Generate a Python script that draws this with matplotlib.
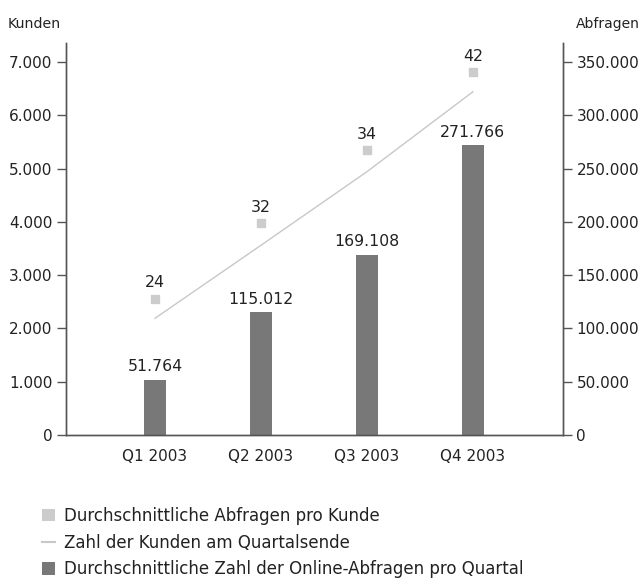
import matplotlib.pyplot as plt
from matplotlib.lines import Line2D
from matplotlib.patches import Patch

plt.rcParams['font.family'] = ['DejaVu Sans']

quartale = ['Q1 2003', 'Q2 2003', 'Q3 2003', 'Q4 2003']
abfragen = [51764, 115012, 169108, 271766]          # rechte Achse
kunden = [2190, 3560, 4940, 6440]                   # linke Achse
abfr_pro_kunde = [24, 32, 34, 42]
abfr_pro_kunde_pos = [2560, 3970, 5350, 6810]       # Lage der Quadrate (linke Achse)

links_ticks = [0, 1000, 2000, 3000, 4000, 5000, 6000, 7000]
rechts_ticks = [0, 50000, 100000, 150000, 200000, 250000, 300000, 350000]

def fmt(v):
    return f"{v:,}".replace(",", ".")

fig = plt.figure(figsize=(6.44, 5.81), dpi=100)
ax = fig.add_axes([0.1025, 0.2513, 0.7717, 0.6747])
ax2 = ax.twinx()

x = list(range(len(quartale)))
spine_col = '#555555'
txt_col = '#222222'
fs = 11

ax2.bar(x, abfragen, width=0.215, color='#787878', zorder=2)
for xi, v in zip(x, abfragen):
    ax2.annotate(fmt(v), (xi, v), xytext=(0, 4), textcoords='offset points',
                 ha='center', va='bottom', fontsize=11.3, color=txt_col)

ax.plot(x, kunden, color='#c8c8c8', lw=1.0, zorder=3)
ax.plot(x, abfr_pro_kunde_pos, ls='none', marker='s', ms=6, color='#cccccc', zorder=3)
for xi, p, v in zip(x, abfr_pro_kunde_pos, abfr_pro_kunde):
    ax.annotate(str(v), (xi, p), xytext=(0, 6), textcoords='offset points',
                ha='center', va='bottom', fontsize=11.3, color=txt_col)

ax.set_zorder(ax2.get_zorder() + 1)
ax.patch.set_visible(False)

ax.set_xlim(-0.84, 3.85)
ax.set_ylim(0, 7355)
ax2.set_ylim(0, 7355 * 50)

ax.set_yticks(links_ticks)
ax.set_yticklabels([fmt(t) for t in links_ticks])
ax2.set_yticks(rechts_ticks)
ax2.set_yticklabels([fmt(t) for t in rechts_ticks])
ax.set_xticks(x)
ax.set_xticklabels(quartale)

for a in (ax, ax2):
    a.spines['top'].set_visible(False)
    for s in ('left', 'right', 'bottom'):
        a.spines[s].set_color(spine_col)
        a.spines[s].set_linewidth(1.0)
    a.tick_params(axis='y', length=6.5, width=1.0, color=spine_col, labelsize=fs,
                  labelcolor=txt_col, pad=3.2)
ax.tick_params(axis='x', length=0, labelsize=fs, labelcolor=txt_col, pad=10)

fig.text(8 / 644, 1 - 24 / 581, 'Kunden', ha='left', va='center', fontsize=10.2, color=txt_col)
fig.text(640 / 644, 1 - 24 / 581, 'Abfragen', ha='right', va='center', fontsize=10, color=txt_col)

handles = [
    Patch(facecolor='#cccccc', edgecolor='none'),
    Line2D([0], [0], color='#c8c8c8', lw=1.5),
    Patch(facecolor='#787878', edgecolor='none'),
]
labels = [
    'Durchschnittliche Abfragen pro Kunde',
    'Zahl der Kunden am Quartalsende',
    'Durchschnittliche Zahl der Online-Abfragen pro Quartal',
]
fig.legend(handles, labels, loc='upper left', bbox_to_anchor=(42 / 644, 1 - 507 / 581),
           frameon=False, fontsize=12, handlelength=0.75, handleheight=0.75,
           handletextpad=0.6, labelspacing=0.52, borderpad=0, borderaxespad=0,
           labelcolor=txt_col)

fig.savefig('out.png', dpi=100)
